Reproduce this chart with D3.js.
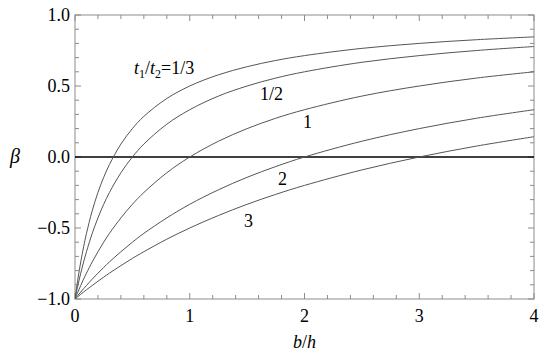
<!DOCTYPE html>
<html><head><meta charset="utf-8">
<script src="https://cdn.jsdelivr.net/npm/d3@7"></script>
</head><body style="margin:0">
<svg id="c" width="550" height="360" style="display:block;background:#fff;font-family:Liberation Serif" font-family="Liberation Serif"></svg>
<script>
const xs = [0,0.025,0.05,0.075,0.1,0.15,0.2,0.25,0.3,0.4,0.5,0.6,0.8,1.0,1.25,1.5,1.75,2.0,2.5,3.0,3.5,4.0];
const beta_1_3 = [-1,-0.860,-0.739,-0.633,-0.538,-0.379,-0.250,-0.143,-0.053,0.091,0.200,0.286,0.412,0.500,0.579,0.636,0.680,0.714,0.765,0.800,0.826,0.846];
const beta_1_2 = [-1,-0.905,-0.818,-0.739,-0.667,-0.538,-0.429,-0.333,-0.250,-0.111,0.000,0.091,0.231,0.333,0.429,0.500,0.556,0.600,0.667,0.714,0.750,0.778];
const beta_1   = [-1,-0.951,-0.905,-0.860,-0.818,-0.739,-0.667,-0.600,-0.538,-0.429,-0.333,-0.250,-0.111,0.000,0.111,0.200,0.273,0.333,0.429,0.500,0.556,0.600];
const beta_2   = [-1,-0.975,-0.951,-0.927,-0.905,-0.860,-0.818,-0.778,-0.739,-0.667,-0.600,-0.538,-0.429,-0.333,-0.231,-0.143,-0.067,0.000,0.111,0.200,0.273,0.333];
const beta_3   = [-1,-0.983,-0.967,-0.951,-0.935,-0.905,-0.875,-0.846,-0.818,-0.765,-0.714,-0.667,-0.579,-0.500,-0.412,-0.333,-0.263,-0.200,-0.091,0.000,0.077,0.143];
const series = [beta_1_3, beta_1_2, beta_1, beta_2, beta_3];
const seriesLabels = ["1/2","1","2","3"];
const xTicks = [0,1,2,3,4];
const yTicks = [-1,-0.5,0,0.5,1];
const yTickLabels = ["\u22121.0","\u22120.5","0.0","0.5","1.0"];

const FF = "Liberation Serif";
const svg = d3.select("#c");
const L=75, R=534, T=15, B=299;
const x = d3.scaleLinear().domain([0,4]).range([L,R]);
const y = d3.scaleLinear().domain([-1,1]).range([B,T]);
const frameCol = "#8c8c8c";

function txt(sel){ return sel.append("text").attr("font-family",FF).style("font-family",FF); }

svg.append("defs").append("clipPath").attr("id","cp").append("rect")
  .attr("x",L).attr("y",T).attr("width",R-L).attr("height",B-T);

svg.append("rect").attr("x",L).attr("y",T).attr("width",R-L).attr("height",B-T)
  .attr("fill","none").attr("stroke",frameCol).attr("stroke-width",1);

const xMinor = d3.range(0,4.0001,0.2);
const yMinor = d3.range(-1,1.0001,0.1);
const tk = svg.append("g").attr("stroke",frameCol).attr("stroke-width",1);
xMinor.forEach(v=>{
  const major = Math.abs(v-Math.round(v))<1e-6;
  const len = major?6:4;
  tk.append("line").attr("x1",x(v)).attr("x2",x(v)).attr("y1",B).attr("y2",B-len);
  tk.append("line").attr("x1",x(v)).attr("x2",x(v)).attr("y1",T).attr("y2",T+len);
});
yMinor.forEach(v=>{
  const major = Math.abs(v*2-Math.round(v*2))<1e-6;
  const len = major?6:4;
  tk.append("line").attr("x1",L).attr("x2",L+len).attr("y1",y(v)).attr("y2",y(v));
  tk.append("line").attr("x1",R).attr("x2",R-len).attr("y1",y(v)).attr("y2",y(v));
});

xTicks.forEach(v=>{
  txt(svg).attr("x",x(v)).attr("y",322).attr("text-anchor","middle")
    .style("font-size","18px").text(String(v));
});
yTicks.forEach((v,i)=>{
  txt(svg).attr("x",70).attr("y",y(v)+6).attr("text-anchor","end")
    .style("font-size","18px").text(yTickLabels[i]);
});

svg.append("line").attr("x1",x(0)).attr("x2",x(4)).attr("y1",y(0)).attr("y2",y(0))
  .attr("stroke","#000").attr("stroke-width",1.4);

const line = d3.line().x((d,i)=>x(xs[i])).y(d=>y(d)).curve(d3.curveCatmullRom.alpha(0.5));
const g = svg.append("g").attr("clip-path","url(#cp)");
series.forEach(s=>{
  g.append("path").attr("d",line(s)).attr("fill","none").attr("stroke","#555").attr("stroke-width",1);
});

const lab = txt(svg).attr("x",134).attr("y",74).style("font-size","18px");
lab.append("tspan").style("font-style","italic").text("t");
lab.append("tspan").style("font-size","12px").attr("dy",4).text("1");
lab.append("tspan").attr("dy",-4).text("/");
lab.append("tspan").style("font-style","italic").text("t");
lab.append("tspan").style("font-size","12px").attr("dy",4).text("2");
lab.append("tspan").attr("dy",-4).text("=1/3");
const labPos = [[260,100],[303,128],[278,185],[244,227]];
seriesLabels.forEach((t,i)=>{
  txt(svg).attr("x",labPos[i][0]).attr("y",labPos[i][1]).style("font-size","18px").text(t);
});

const xt = txt(svg).attr("x",x(2)).attr("y",348).attr("text-anchor","middle").style("font-size","18px");
xt.append("tspan").style("font-style","italic").text("b");
xt.append("tspan").text("/");
xt.append("tspan").style("font-style","italic").text("h");
txt(svg).attr("x",15).attr("y",y(0)+6).attr("text-anchor","middle")
  .style("font-size","20px").style("font-style","italic").text("\u03B2");
</script>
</body></html>
